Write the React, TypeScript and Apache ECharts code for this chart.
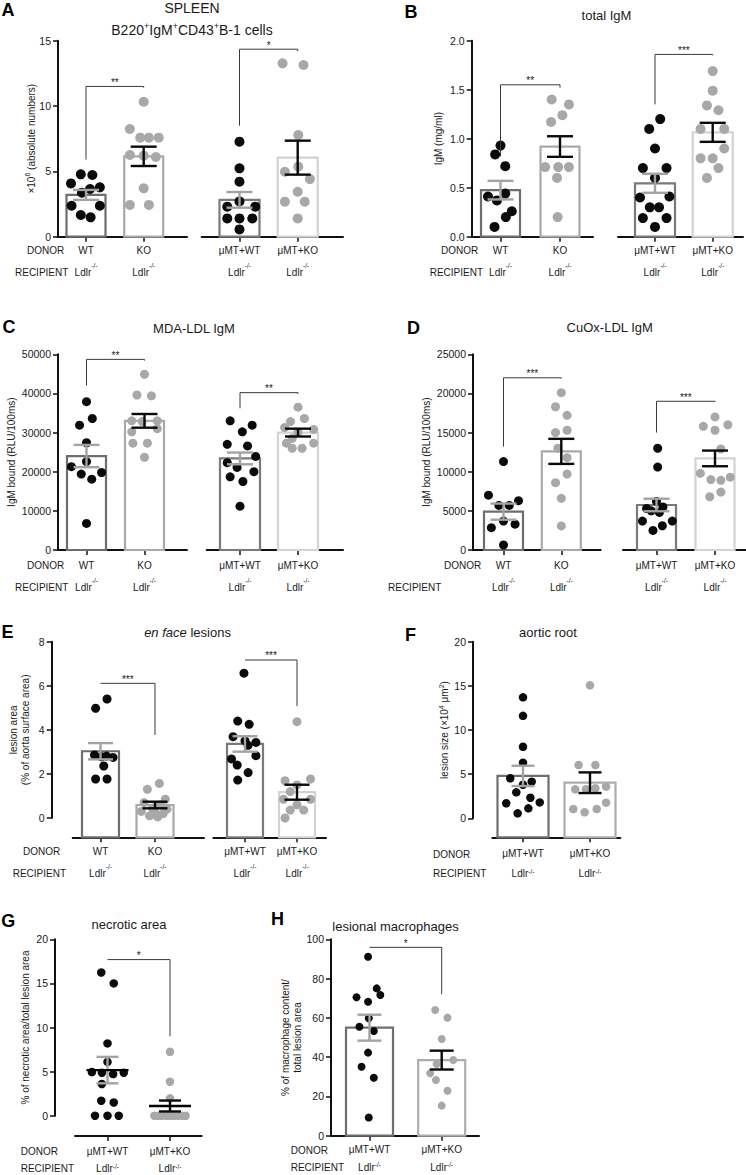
import React, { useEffect, useRef } from "react";
import * as echarts from "echarts";

const FONT = "'Liberation Sans', Arial, Helvetica, sans-serif";
const INK = "#1a1a1a";
const RECIPIENT = "Ldlr";

// ===== Panel A: SPLEEN B220+IgM+CD43+ B-1 cells (x10^6) =====
const aCatsL = ["WT", "KO"];
const aCatsR = ["μMT+WT", "μMT+KO"];
const aWT = [4.77, 4.72, 4.08, 3.78, 3.65, 3.37, 2.37, 2.37, 1.66, 1.48];
const aWTx = [-0.09, 0.11, -0.26, 0.24, 0.07, -0.07, -0.25, 0.24, -0.09, 0.08];
const aKO = [10.33, 8.24, 7.58, 7.58, 7.58, 6.25, 6.2, 6.1, 3.7, 2.43, 2.43];
const aKOx = [0, -0.24, -0.06, 0.09, 0.26, -0.24, 0, 0.21, 0, -0.24, 0.09];
const aMeanL = [3.2, 6.15];
const aSemL = [0.38, 0.74];
const aMWT = [7.27, 5.23, 4.21, 2.7, 2.3, 2.3, 1.4, 1.4, 1.4, 0.56];
const aMWTx = [0, 0, 0, 0, -0.21, 0.27, -0.21, 0, 0.22, 0];
const aMKO = [13.27, 13.14, 7.78, 5.36, 4.97, 4.41, 3.44, 2.68, 2.68, 1.4];
const aMKOx = [-0.26, 0.1, 0.01, 0.01, -0.22, 0.21, 0, -0.22, 0.12, 0];
const aMeanR = [2.82, 6.05];
const aSemR = [0.6, 1.3];
const aBrL = [11.5, 5.9, 11.4];
const aBrR = [14.35, 8.5, 14.2];

// ===== Panel B: total IgM (mg/ml) =====
const bWT = [0.93, 0.84, 0.72, 0.44, 0.41, 0.37, 0.26, 0.2, 0.1];
const bWTx = [0, -0.09, 0.08, 0.08, -0.21, -0.06, 0.19, 0.09, -0.1];
const bKO = [1.4, 1.35, 1.24, 1.17, 0.71, 0.71, 0.71, 0.6, 0.2];
const bKOx = [-0.14, 0.15, 0.04, -0.15, -0.25, -0.03, 0.15, -0.05, -0.04];
const bMeanL = [0.475, 0.92];
const bSemL = [0.095, 0.105];
const bMWT = [1.2, 1.1, 0.9, 0.7, 0.7, 0.6, 0.4, 0.41, 0.3, 0.3, 0.19, 0.19, 0.1];
const bMWTx = [0.09, -0.1, 0, -0.21, 0.2, 0, -0.26, 0.25, -0.09, 0.07, -0.21, 0.2, 0];
const bMKO = [1.69, 1.49, 1.34, 1.29, 1.1, 1.1, 0.9, 0.8, 0.8, 0.7, 0.6];
const bMKOx = [0, 0, -0.1, 0.1, -0.21, 0.2, 0.2, -0.21, 0, 0.1, -0.1];
const bMeanR = [0.545, 1.065];
const bSemR = [0.097, 0.097];
const bBrL = [1.55, 0.82, 1.52];
const bBrR = [1.86, 1.35, 1.85];

// ===== Panel C: MDA-LDL IgM =====
const cWT = [37900, 33600, 31900, 27400, 22600, 21300, 19800, 19400, 18100, 6800];
const cWTx = [0, 0.1, -0.12, 0, 0, -0.26, 0.26, -0.09, 0.09, 0];
const cKO = [44900, 39600, 39400, 33000, 33000, 32800, 31000, 30200, 27300, 27300, 23700];
const cKOx = [0, -0.13, 0.12, -0.22, 0.22, -0.04, 0.22, -0.22, -0.2, 0.05, 0];
const cMeanL = [24000, 33000];
const cSemL = [2850, 1750];
const cMWT = [33000, 31900, 30200, 27000, 26600, 23900, 22300, 21100, 20000, 18700, 17500, 11200];
const cMWTx = [-0.17, 0.21, 0.04, -0.22, 0.13, 0.27, -0.22, -0.05, 0.24, -0.17, 0.05, 0];
const cMKO = [36500, 33600, 32800, 31300, 30800, 30000, 28500, 27300, 27300, 26000, 26000];
const cMKOx = [0, 0.11, -0.13, -0.23, 0.27, 0, -0.1, -0.2, 0.27, -0.1, 0.07];
const cMeanR = [23400, 30000];
const cSemR = [1500, 1000];
const cBrL = [48700, 42000, 48400];
const cBrR = [40200, 36200, 39900];

// ===== Panel D: CuOx-LDL IgM =====
const dWT = [11300, 7000, 6300, 5700, 5700, 3700, 3300, 2850, 640];
const dWTx = [0, -0.26, 0.26, -0.08, 0.1, 0, 0.2, -0.21, 0];
const dKO = [20100, 18300, 17200, 15300, 15000, 13000, 11800, 9700, 8600, 6600, 3070];
const dKOx = [0, -0.1, 0.1, 0.1, -0.1, -0.06, 0.1, 0.1, -0.1, 0, 0];
const dMeanL = [4900, 12600];
const dSemL = [1030, 1600];
const dMWT = [13000, 10600, 6200, 5500, 5300, 5000, 4800, 3700, 3700, 3100, 2500];
const dMWTx = [0.02, 0.02, 0, 0.11, -0.17, -0.09, 0.05, -0.24, 0.27, 0.1, -0.06];
const dMKO = [17000, 16000, 15800, 15300, 12900, 9800, 9300, 9000, 8900, 7400, 6800];
const dMKOx = [0, 0.22, -0.2, 0, 0.1, -0.25, 0.26, -0.07, 0.1, 0.1, -0.09];
const dMeanR = [5750, 11700];
const dSemR = [800, 1000];
const dBrL = [22000, 13200, 21900];
const dBrR = [19000, 15000, 18900];

// ===== Panel E: en face lesions (% of aorta surface area) =====
const eWT = [5.4, 4.98, 2.86, 2.81, 2.78, 2.75, 2.36, 1.77, 1.77];
const eWTx = [0.12, -0.09, -0.11, 0.11, 0.02, 0.23, 0.06, -0.09, 0.12];
const eKO = [1.57, 1.3, 0.85, 0.7, 0.6, 0.45, 0.4, 0.3, 0.25, 0.2, 0.1, 0.05];
const eKOx = [0.08, -0.14, 0.19, -0.2, 0.1, -0.05, 0.22, -0.25, 0, 0.15, -0.1, 0.05];
const eMeanL = [3.03, 0.59];
const eSemL = [0.37, 0.15];
const eMWT = [6.57, 4.4, 4.25, 3.69, 3.5, 3.43, 3.3, 2.83, 2.68, 2.4, 2.06, 1.72];
const eMWTx = [-0.02, -0.14, 0.08, -0.23, 0, 0.21, 0.06, 0.21, -0.26, -0.15, 0.06, -0.14];
const eMKO = [4.37, 1.77, 1.69, 1.5, 1.2, 0.85, 0.85, 0.6, 0.36, 0.36, 0];
const eMKOx = [0, 0.26, -0.23, 0, -0.13, -0.26, 0.26, 0, -0.13, 0.13, -0.23];
const eMeanR = [3.36, 1.17];
const eSemR = [0.35, 0.34];
const eBrL = [6.11, 6.11, 3.77];
const eBrR = [7.17, 7.17, 5.08];

// ===== Panel F: aortic root lesion size (x10^4 µm^2) =====
const fMWT = [13.7, 11.6, 8.1, 6.3, 4.53, 4.15, 3.8, 2.94, 2.33, 1.8, 1.7, 1.13, 0.56];
const fMWTx = [0, 0, 0, 0, -0.19, 0.13, 0, -0.1, 0.11, 0.25, -0.25, 0.08, -0.08];
const fMKO = [15.06, 6.03, 6.03, 3.58, 3.4, 3.3, 3.28, 1.77, 1.05, 1.05, 0.68];
const fMKOx = [0, -0.17, 0.08, 0.24, 0.08, -0.06, -0.22, 0.24, -0.25, 0.1, -0.08];
const fMean = [4.8, 4.03];
const fSem = [1.15, 1.17];

// ===== Panel G: necrotic area (%) =====
const gWT = [16.24, 15.0, 8.2, 6.1, 4.95, 4.87, 4.72, 4.87, 3.6, 1.7, 1.5, 0, 0, 0];
const gWTx = [-0.1, 0.1, 0, 0, -0.25, -0.09, 0.09, 0.26, -0.09, -0.1, 0.1, -0.2, 0, 0.18];
const gKO = [7.25, 3.85, 1.97, 0, 0, 0, 0, 0, 0, 0, 0, 0];
const gKOx = [0, 0, 0, -0.25, -0.19, -0.13, -0.06, 0, 0.06, 0.13, 0.19, 0.25];
const gMean = [5.17, 1.1];
const gSem = [1.5, 0.62];
const gBr = [17.7, 17.7, 9.0];

// ===== Panel H: lesional macrophages (%) =====
const hWT = [91.1, 75.0, 71.6, 70.5, 68.2, 59.8, 55.5, 53.3, 42.3, 35.1, 29.5, 9.3];
const hWTx = [-0.02, 0.1, 0.15, -0.18, -0.02, -0.01, -0.14, 0.06, -0.02, -0.11, 0.06, -0.01];
const hKO = [64.0, 60.1, 49.2, 38.5, 36.5, 31.8, 28.4, 22.9, 15.3];
const hKOx = [-0.09, 0.08, 0, 0.16, -0.07, -0.16, -0.08, 0.08, 0];
const hMean = [55.0, 38.5];
const hSem = [6.6, 4.8];
const hBr = [95.9, 95.9, 72.0];

// ----- styles -----
const BLACK = "#0a0a0a";
const GREY = "#a8a8a8";
const LEFT = { bar: ["#6e6e6e", "#a9a9a9"], pt: [BLACK, GREY], err: ["#a3a3a3", BLACK] };
const RIGHT = { bar: ["#7a7a7a", "#d3d3d3"], pt: [BLACK, GREY], err: ["#a3a3a3", BLACK] };
const SINGLE = { bar: ["#6e6e6e", "#adadad"], pt: [BLACK, GREY], err: ["#a3a3a3", BLACK] };

const PANELS: any[] = [
  {
    letter: ["A", 8, 10],
    titles: [
      { text: "SPLEEN", x: 192, y: 8, size: 14 },
      { text: "{t|B220}{u|+}{t|IgM}{u|+}{t|CD43}{u|+}{t|B-1 cells}", x: 192, y: 29.5, size: 14 },
    ],
    axisX: 58, top: 40.7, y0: 236.7, xAxisY: 236.7, yMax: 15, interval: 5, dec: 0,
    yName: "×10{s|6} (absolute numbers)", nameLH: 14, nameGap: 20,
    donorX: 27, recipX: 15, donorOff: 14, recOff: 36, dot: 10, cap: 26, bars: true,
    groups: [
      { x0: 58, x1: 187, c0: 86, c1: 143.7, barW: 39, cats: aCatsL, vals: [aWT, aKO], jit: [aWTx, aKOx], mean: aMeanL, sem: aSemL, br: aBrL, stars: "**", st: LEFT },
      { x0: 201.7, x1: 343, c0: 239.5, c1: 297.7, barW: 40, cats: aCatsR, vals: [aMWT, aMKO], jit: [aMWTx, aMKOx], mean: aMeanR, sem: aSemR, br: aBrR, stars: "*", st: RIGHT },
    ],
  },
  {
    letter: ["B", 411, 11.7],
    titles: [{ text: "total IgM", x: 606.5, y: 15.5, size: 13 }],
    axisX: 471.7, top: 40.7, y0: 236.7, xAxisY: 236.7, yMax: 2, interval: 0.5, dec: 1,
    yName: "IgM (mg/ml)", nameLH: 12, nameGap: 27.7,
    donorX: 441, recipX: 429.7, donorOff: 14, recOff: 36, dot: 10, cap: 26, bars: true,
    groups: [
      { x0: 471.7, x1: 593, c0: 500.5, c1: 560, barW: 39, cats: aCatsL, vals: [bWT, bKO], jit: [bWTx, bKOx], mean: bMeanL, sem: bSemL, br: bBrL, stars: "**", st: LEFT },
      { x0: 618, x1: 743, c0: 655, c1: 712.7, barW: 40, cats: aCatsR, vals: [bMWT, bMKO], jit: [bMWTx, bMKOx], mean: bMeanR, sem: bSemR, br: bBrR, stars: "***", st: RIGHT },
    ],
  },
  {
    letter: ["C", 9, 326.7],
    titles: [{ text: "MDA-LDL IgM", x: 194, y: 328, size: 13 }],
    axisX: 58, top: 354.3, y0: 550, xAxisY: 550, yMax: 50000, interval: 10000, dec: 0,
    yName: "IgM bound (RLU/100ms)", nameLH: 12, nameGap: 40.3,
    donorX: 27, recipX: 15, donorOff: 15, recOff: 37.3, dot: 9, cap: 26, bars: true,
    groups: [
      { x0: 58, x1: 187, c0: 86.5, c1: 144.5, barW: 39, cats: aCatsL, vals: [cWT, cKO], jit: [cWTx, cKOx], mean: cMeanL, sem: cSemL, br: cBrL, stars: "**", st: LEFT },
      { x0: 206.7, x1: 343, c0: 240, c1: 298, barW: 40, cats: aCatsR, vals: [cMWT, cMKO], jit: [cMWTx, cMKOx], mean: cMeanR, sem: cSemR, br: cBrR, stars: "**", st: RIGHT },
    ],
  },
  {
    letter: ["D", 413.5, 327.5],
    titles: [{ text: "CuOx-LDL IgM", x: 609.7, y: 327.5, size: 13 }],
    axisX: 473, top: 354.3, y0: 550, xAxisY: 550, yMax: 25000, interval: 5000, dec: 0,
    yName: "IgM bound (RLU/100ms)", nameLH: 12, nameGap: 40.7,
    donorX: 444, recipX: 388, donorOff: 15, recOff: 37.3, dot: 9, cap: 26, bars: true,
    groups: [
      { x0: 473, x1: 600.7, c0: 503.5, c1: 561.3, barW: 39, cats: aCatsL, vals: [dWT, dKO], jit: [dWTx, dKOx], mean: dMeanL, sem: dSemL, br: dBrL, stars: "***", st: LEFT },
      { x0: 623, x1: 746, c0: 656.5, c1: 715, barW: 39, cats: aCatsR, vals: [dMWT, dMKO], jit: [dMWTx, dMKOx], mean: dMeanR, sem: dSemR, br: dBrR, stars: "***", st: RIGHT },
    ],
  },
  {
    letter: ["E", 7.5, 631.7],
    titles: [{ text: "{i|en face} lesions", x: 187.5, y: 632.5, size: 13 }],
    axisX: 51.7, top: 641.7, y0: 818, xAxisY: 837.3, yMax: 8, interval: 2, dec: 0,
    yName: "lesion area\n(% of aorta surface area)", nameLH: 12, nameGap: 20.7,
    donorX: 23, recipX: 12.7, donorOff: 14.4, recOff: 36, dot: 9, cap: 25, bars: true,
    groups: [
      { x0: 72.7, x1: 204, c0: 100.5, c1: 155, barW: 37, cats: aCatsL, vals: [eWT, eKO], jit: [eWTx, eKOx], mean: eMeanL, sem: eSemL, br: eBrL, stars: "***", st: LEFT },
      { x0: 213.3, x1: 326, c0: 245, c1: 297, barW: 36, cats: aCatsR, vals: [eMWT, eMKO], jit: [eMWTx, eMKOx], mean: eMeanR, sem: eSemR, br: eBrR, stars: "***", st: RIGHT },
    ],
  },
  {
    letter: ["F", 410.5, 635],
    titles: [{ text: "aortic root", x: 548, y: 632.5, size: 13 }],
    axisX: 473, top: 641.7, y0: 818.3, xAxisY: 837.3, yMax: 20, interval: 5, dec: 0,
    yName: "lesion size (×10{s|4} μm{s|2})", nameLH: 14, nameGap: 21.3,
    donorX: 433, recipX: 433, donorOff: 16.7, recOff: 36, dot: 8.5, cap: 23, bars: true,
    groups: [
      { x0: 492.3, x1: 620.3, c0: 523, c1: 590, barW: 51, cats: aCatsR, vals: [fMWT, fMKO], jit: [fMWTx, fMKOx], mean: fMean, sem: fSem, br: null, stars: "", st: SINGLE },
    ],
  },
  {
    letter: ["G", 8.3, 921.3],
    titles: [{ text: "necrotic area", x: 129, y: 924.5, size: 13 }],
    axisX: 55, top: 939.3, y0: 1115.7, xAxisY: 1136, yMax: 20, interval: 5, dec: 0,
    yName: "% of necrotic area/total lesion area", nameLH: 12, nameGap: 24,
    donorX: 20.7, recipX: 20.7, donorOff: 15.2, recOff: 32, dot: 8.5, cap: 22, bars: false, meanW: 42,
    groups: [
      { x0: 75, x1: 201.7, c0: 107.5, c1: 170, barW: 0, cats: aCatsR, vals: [gWT, gKO], jit: [gWTx, gKOx], mean: gMean, sem: gSem, br: gBr, stars: "*", st: SINGLE },
    ],
  },
  {
    letter: ["H", 277.5, 919],
    titles: [{ text: "lesional macrophages", x: 395.5, y: 926, size: 13 }],
    axisX: 331, top: 939.3, y0: 1135.7, xAxisY: 1135.7, yMax: 100, interval: 20, dec: 0,
    yName: "% of macrophage content/\ntotal lesion area", nameLH: 12, nameGap: 27.7,
    donorX: 290.7, recipX: 290.7, donorOff: 14.3, recOff: 32, dot: 8, cap: 24, bars: true,
    groups: [
      { x0: 331, x1: 479, c0: 369.5, c1: 441.7, barW: 47, cats: aCatsR, vals: [hWT, hKO], jit: [hWTx, hKOx], mean: hMean, sem: hSem, br: hBr, stars: "*", st: SINGLE },
    ],
  },
];

function textEl(x: number, y: number, t: string, extra: any = {}) {
  return {
    type: "text",
    x,
    y,
    silent: true,
    z: 20,
    style: Object.assign(
      {
        text: t,
        fill: INK,
        fontFamily: FONT,
        fontSize: 10,
        align: "left",
        verticalAlign: "middle",
      },
      extra
    ),
  };
}

function titleRich(size: number) {
  return {
    t: { fontSize: size, fontFamily: FONT, fill: INK, lineHeight: size + 2 },
    u: { fontSize: size * 0.65, fontFamily: FONT, fill: INK, lineHeight: size - 6, verticalAlign: "top" },
    i: { fontSize: size, fontFamily: FONT, fill: INK, fontStyle: "italic", lineHeight: size + 2 },
  };
}

function buildOption() {
  const grid: any[] = [];
  const xAxis: any[] = [];
  const yAxis: any[] = [];
  const series: any[] = [];
  const graphic: any[] = [];

  PANELS.forEach((p) => {
    graphic.push(
      textEl(p.letter[1], p.letter[2], p.letter[0], {
        fontSize: 18,
        fontWeight: "bold",
        align: "center",
        fill: "#000",
      })
    );
    p.titles.forEach((t: any) =>
      graphic.push(
        textEl(t.x, t.y, t.text, {
          fontSize: t.size,
          align: "center",
          rich: titleRich(t.size),
        })
      )
    );
    graphic.push(textEl(p.donorX, p.xAxisY + p.donorOff, "DONOR"));
    graphic.push(textEl(p.recipX, p.xAxisY + p.recOff, "RECIPIENT"));

    // y-axis only grid
    const yi = grid.length;
    grid.push({ left: p.axisX, top: p.top, width: 1, height: p.y0 - p.top, containLabel: false, outerBoundsMode: "none" });
    xAxis.push({ type: "value", gridIndex: yi, min: 0, max: 1, show: false });
    yAxis.push({
      type: "value",
      gridIndex: yi,
      position: "left",
      min: 0,
      max: p.yMax,
      interval: p.interval,
      axisLine: { show: true, onZero: false, lineStyle: { color: "#111", width: 2 } },
      axisTick: { show: true, inside: false, length: 5, lineStyle: { color: "#111", width: 1.5 } },
      axisLabel: {
        show: true,
        margin: 7,
        fontSize: 10.5,
        color: INK,
        fontFamily: FONT,
        formatter: (v: number) => v.toFixed(p.dec),
      },
      splitLine: { show: false },
      name: p.yName,
      nameLocation: "middle",
      nameRotate: 90,
      nameGap: p.nameGap,
      nameMoveOverlap: false,
      nameTextStyle: {
        fontSize: 10,
        color: INK,
        fontFamily: FONT,
        lineHeight: p.nameLH,
        rich: {
          s: { fontSize: 7, color: INK, fontFamily: FONT, lineHeight: p.nameLH - 8, verticalAlign: "top" },
        },
      },
    });

    const d1 = 2 * (p.donorOff - 3);
    const r1 = 2 * (p.recOff - 3 - d1);
    const dataMin = (-(p.xAxisY - p.y0) * p.yMax) / (p.y0 - p.top);

    p.groups.forEach((g: any) => {
      const idx = grid.length;
      const unit = g.c1 - g.c0;
      grid.push({
        left: g.x0,
        top: p.top,
        width: g.x1 - g.x0,
        height: p.xAxisY - p.top,
        containLabel: false,
        outerBoundsMode: "none",
      });
      xAxis.push({
        type: "value",
        gridIndex: idx,
        position: "bottom",
        min: (g.x0 - g.c0) / unit,
        max: (g.x1 - g.c0) / unit,
        axisLine: { show: true, onZero: false, lineStyle: { color: "#111", width: 2 } },
        axisTick: { show: true, inside: false, length: 5, customValues: [0, 1], lineStyle: { color: "#111", width: 1.5 } },
        axisLabel: {
          show: true,
          customValues: [0, 1],
          margin: 3,
          hideOverlap: false,
          formatter: (v: number) => `{d|${g.cats[Math.round(v)]}}\n{r|${RECIPIENT}}{s|-/-}`,
          rich: {
            d: { fontSize: 10, lineHeight: d1, color: INK, fontFamily: FONT },
            r: { fontSize: 10, lineHeight: r1, color: INK, fontFamily: FONT },
            s: { fontSize: 6.5, lineHeight: Math.max(r1 - 8, 4), verticalAlign: "top", color: INK, fontFamily: FONT },
          },
        },
        splitLine: { show: false },
      });
      yAxis.push({ type: "value", gridIndex: idx, min: dataMin, max: p.yMax, show: false });

      if (p.bars) {
        series.push({
          type: "custom",
          xAxisIndex: idx,
          yAxisIndex: idx,
          z: 1,
          silent: true,
          clip: false,
          itemStyle: { color: INK },
          data: g.mean.map((m: number, k: number) => [k, m]),
          renderItem: (params: any, api: any) => {
            const k = params.dataIndex;
            const t = api.coord([api.value(0), api.value(1)]);
            const b = api.coord([api.value(0), dataMin]);
            return {
              type: "rect",
              shape: { x: t[0] - g.barW / 2, y: t[1], width: g.barW, height: b[1] - t[1] },
              style: { fill: "none", stroke: g.st.bar[k], lineWidth: 2.2 },
            };
          },
        });
      }

      g.vals.forEach((vals: number[], k: number) => {
        series.push({
          type: "scatter",
          xAxisIndex: idx,
          yAxisIndex: idx,
          z: 3,
          silent: true,
          symbol: "circle",
          symbolSize: p.dot,
          itemStyle: { color: g.st.pt[k], opacity: 1 },
          data: vals.map((v, j) => [k + g.jit[k][j], v]),
        });
      });

      series.push({
        type: "custom",
        xAxisIndex: idx,
        yAxisIndex: idx,
        z: 4,
        silent: true,
        clip: false,
        itemStyle: { color: INK },
        data: g.mean.map((m: number, k: number) => [k, m, g.sem[k]]),
        renderItem: (params: any, api: any) => {
          const k = params.dataIndex;
          const x = api.value(0);
          const m = api.value(1);
          const s = api.value(2);
          const pt = api.coord([x, m + s]);
          const pb = api.coord([x, m - s]);
          const pm = api.coord([x, m]);
          const cx = pt[0];
          const hw = p.cap / 2;
          const st = { stroke: g.st.err[k], lineWidth: 2.4, lineCap: "butt" };
          const children: any[] = [
            { type: "line", shape: { x1: cx, y1: pt[1], x2: cx, y2: pb[1] }, style: st },
            { type: "line", shape: { x1: cx - hw, y1: pt[1], x2: cx + hw, y2: pt[1] }, style: st },
            { type: "line", shape: { x1: cx - hw, y1: pb[1], x2: cx + hw, y2: pb[1] }, style: st },
          ];
          if (!p.bars) {
            children.push({
              type: "line",
              shape: { x1: cx - p.meanW / 2, y1: pm[1], x2: cx + p.meanW / 2, y2: pm[1] },
              style: { stroke: "#000", lineWidth: 2.4 },
            });
          }
          return { type: "group", children };
        },
      });

      if (g.br) {
        series.push({
          type: "custom",
          xAxisIndex: idx,
          yAxisIndex: idx,
          z: 5,
          silent: true,
          clip: false,
          itemStyle: { color: INK },
          data: [[0, 1, g.br[0], g.br[1], g.br[2]]],
          renderItem: (params: any, api: any) => {
            const a = api.coord([api.value(0), api.value(3)]);
            const b = api.coord([api.value(0), api.value(2)]);
            const c = api.coord([api.value(1), api.value(2)]);
            const d = api.coord([api.value(1), api.value(4)]);
            return {
              type: "group",
              children: [
                {
                  type: "polyline",
                  shape: { points: [a, b, c, d] },
                  style: { stroke: "#3a3a3a", lineWidth: 1, fill: "none" },
                },
                {
                  type: "text",
                  x: (b[0] + c[0]) / 2,
                  y: b[1] + 1,
                  style: {
                    text: g.stars,
                    fontSize: 10,
                    fontFamily: FONT,
                    fill: INK,
                    align: "center",
                    verticalAlign: "bottom",
                  },
                },
              ],
            };
          },
        });
      }
    });
  });

  return {
    animation: false,
    backgroundColor: "#ffffff",
    color: [INK],
    textStyle: { fontFamily: FONT },
    grid,
    xAxis,
    yAxis,
    series,
    graphic,
  };
}

export default function App() {
  const ref = useRef<HTMLDivElement>(null);
  useEffect(() => {
    document.body.style.margin = "0";
    const chart = echarts.init(ref.current as HTMLDivElement, null, { renderer: "svg", width: 746, height: 1175 });
    chart.setOption(buildOption() as any);
    return () => chart.dispose();
  }, []);
  return <div ref={ref} style={{ width: 746, height: 1175, background: "#fff" }} />;
}
